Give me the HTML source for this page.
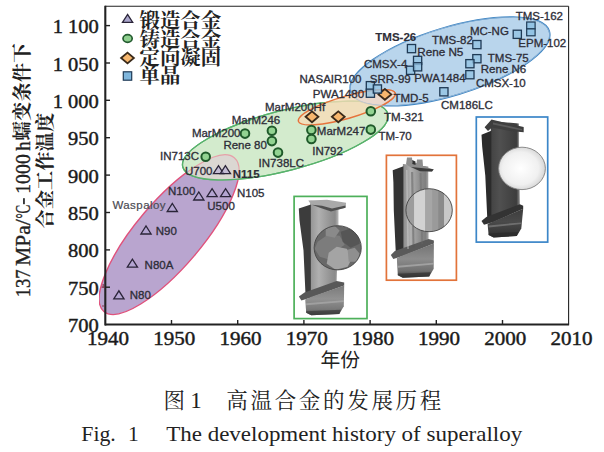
<!DOCTYPE html>
<html><head><meta charset="utf-8"><title>Fig 1</title>
<style>html,body{margin:0;padding:0;background:#fff}body{width:604px;height:452px;overflow:hidden}</style></head>
<body>
<svg width="604" height="452" viewBox="0 0 604 452" style="display:block">
<rect width="604" height="452" fill="#fff"/>
<defs>
<clipPath id="axclip"><rect x="99.0" y="6.2" width="469.6" height="318.3"/></clipPath>
<linearGradient id="gb1" x1="0" x2="1" y1="0" y2="0"><stop offset="0" stop-color="#555"/><stop offset="0.35" stop-color="#9a9a9a"/><stop offset="0.7" stop-color="#6a6a6a"/><stop offset="1" stop-color="#444"/></linearGradient>
<linearGradient id="gb2" x1="0" x2="1" y1="0" y2="0"><stop offset="0" stop-color="#444"/><stop offset="0.4" stop-color="#999"/><stop offset="0.75" stop-color="#777"/><stop offset="1" stop-color="#555"/></linearGradient>
<linearGradient id="gb3" x1="0" x2="1" y1="0" y2="0"><stop offset="0" stop-color="#2a2a2a"/><stop offset="0.4" stop-color="#555"/><stop offset="0.8" stop-color="#3a3a3a"/><stop offset="1" stop-color="#2a2a2a"/></linearGradient>
<radialGradient id="gc3" cx="0.47" cy="0.5" r="0.55"><stop offset="0" stop-color="#ffffff"/><stop offset="0.7" stop-color="#f0f0f0"/><stop offset="0.92" stop-color="#dadada"/><stop offset="1" stop-color="#c0c0c0"/></radialGradient>
</defs>
<g clip-path="url(#axclip)">
<clipPath id="cg"><ellipse cx="0" cy="0" rx="105.9" ry="30.0" transform="translate(285.3 140.5) rotate(-14.5)"/></clipPath>
<clipPath id="cb"><ellipse cx="0" cy="0" rx="103.8" ry="34.0" transform="translate(450.0 61.4) rotate(-16.9)"/></clipPath>
<ellipse cx="0" cy="0" rx="100.8" ry="32.9" transform="translate(169.1 234.6) rotate(-49.7)" fill="#b9a5cf" stroke="#e0527c" stroke-width="1.4" fill-opacity="1.00"/>
<ellipse cx="0" cy="0" rx="105.9" ry="30.0" transform="translate(285.3 140.5) rotate(-14.5)" fill="#d3ebcd" stroke="#58b26c" stroke-width="1.3" fill-opacity="1.00"/>
<g clip-path="url(#cg)">
<ellipse cx="0" cy="0" rx="100.8" ry="32.9" transform="translate(169.1 234.6) rotate(-49.7)" fill="#dbd7d2" stroke="#e6a0a8" stroke-width="1.2" fill-opacity="1.00"/>
</g>
<ellipse cx="0" cy="0" rx="105.9" ry="30.0" transform="translate(285.3 140.5) rotate(-14.5)" fill="none" stroke="#58b26c" stroke-width="1.3" fill-opacity="1.00"/>
<ellipse cx="0" cy="0" rx="103.8" ry="34.0" transform="translate(450.0 61.4) rotate(-16.9)" fill="#b3d1ea" stroke="#3f86c4" stroke-width="1.5" fill-opacity="0.92"/>
<ellipse cx="0" cy="0" rx="50.4" ry="11.1" transform="translate(346.8 107.3) rotate(-16.2)" fill="#f8dcb8" stroke="#e6733c" stroke-width="1.4" fill-opacity="0.80"/>
<g clip-path="url(#cb)">
<ellipse cx="0" cy="0" rx="50.4" ry="11.1" transform="translate(346.8 107.3) rotate(-16.2)" fill="#ead8cf" stroke="#e6733c" stroke-width="1.4" fill-opacity="0.90"/>
<ellipse cx="0" cy="0" rx="103.8" ry="34.0" transform="translate(450.0 61.4) rotate(-16.9)" fill="none" stroke="#9dbbd8" stroke-width="1.2" fill-opacity="1.00"/>
</g>
</g>
<linearGradient id="bg1" x1="0" x2="1" y1="0" y2="0"><stop offset="0" stop-color="#949494"/><stop offset="0.3" stop-color="#b0b0b0"/><stop offset="0.7" stop-color="#949494"/><stop offset="0.88" stop-color="#8a8a8a"/><stop offset="1" stop-color="#bababa"/></linearGradient>
<linearGradient id="rg1" x1="0" x2="0" y1="0" y2="1"><stop offset="0" stop-color="#7a7a7a"/><stop offset="0.45" stop-color="#929292"/><stop offset="0.8" stop-color="#787878"/><stop offset="1" stop-color="#3c3c3c"/></linearGradient>
<g>
<path d="M310.4 200.8 L338.5 203.3 L338.5 225.8 L336.6 283.5 L310.4 293.6 Z" fill="url(#bg1)"/>
<path d="M298.8 208.6 L310.9 204.6 L310.9 294.1 L305.5 294.6 L303.5 250.6 L299.5 220.6 Z" fill="#3c3c3c"/>
<path d="M308.3 200.6 L327.0 199.8 L346.1 202.7 L345.5 207.8 L331.0 211.2 L320.0 207.5 L311.0 204.5 Z" fill="#a9a9a9"/>
<path d="M345.5 205.5 L345.5 207.8 L331.0 211.4 L320.0 207.7 L312.0 204.8 L322.0 205.8 L332.0 208.5 Z" fill="#505050"/>
<path d="M298.9 296.6 L304.5 292.6 L336.6 281.0 L344.2 282.5 L344.2 285.5 L311.2 297.6 L301.4 300.4 Z" fill="#585858"/>
<path d="M305.2 299.6 L312.2 296.6 L344.2 285.5 L343.8 306.3 L339.3 314.0 L311.2 315.3 L306.2 312.8 Z" fill="url(#rg1)"/>
<path d="M306.2 303.3 L343.8 300.3 L343.8 302.0 L306.2 305.3 Z" fill="#b0b0b0" opacity="0.6"/>
<path d="M306.2 311.3 L340.8 309.8 L339.3 314.0 L311.2 315.3 L306.2 312.8 Z" fill="#3c3c3c" opacity="0.7"/>
<clipPath id="cc1"><ellipse cx="337.7" cy="247.8" rx="23.6" ry="22.1"/></clipPath>
<g clip-path="url(#cc1)">
<circle cx="337.7" cy="247.8" r="23.6" fill="#686868"/>
<path d="M317.7 241.8 l10 -7 l12 1 l5 9 l-9 6 l-6 9 l-10 -3 l-5 -8 Z" fill="#7c7c7c"/>
<path d="M328.7 252.8 l8 -6 l10 2 l6 8 l-5 10 l-12 3 l-9 -6 Z" fill="#a4a4a4"/>
<path d="M340.7 231.8 l9 -3 l9 5 l1 10 l-9 4 l-8 -6 Z" fill="#565656"/>
<path d="M325.7 228.8 l8 -4 l6 6 l-5 7 l-9 -2 Z" fill="#8a8a8a"/>
<path d="M347.7 249.8 l7 -2 l5 6 l-3 8 l-8 0 Z" fill="#8f8f8f"/>
</g>
<ellipse cx="337.7" cy="247.8" rx="23.6" ry="22.1" fill="none" stroke="#444" stroke-width="0.9"/>
<rect x="294.1" y="196.4" width="72.9" height="122.2" fill="none" stroke="#4db05a" stroke-width="1.7"/>
</g>
<linearGradient id="bg2" x1="0" x2="1" y1="0" y2="0"><stop offset="0" stop-color="#8a8a8a"/><stop offset="0.3" stop-color="#b0b0b0"/><stop offset="0.7" stop-color="#8a8a8a"/><stop offset="0.88" stop-color="#808080"/><stop offset="1" stop-color="#a8a8a8"/></linearGradient>
<linearGradient id="rg2" x1="0" x2="0" y1="0" y2="1"><stop offset="0" stop-color="#747474"/><stop offset="0.45" stop-color="#8c8c8c"/><stop offset="0.8" stop-color="#707070"/><stop offset="1" stop-color="#333333"/></linearGradient>
<g>
<path d="M402.9 163.9 L428.3 166.4 L428.3 188.9 L428.6 241.6 L402.9 252.1 Z" fill="url(#bg2)"/>
<path d="M392.7 170.2 L403.4 166.2 L403.4 252.6 L395.8 253.1 L393.8 210.6 L393.4 182.2 Z" fill="#333333"/>
<path d="M407.0 157.6 L412.0 157.6 L412.5 163.0 L416.5 163.0 L417.0 159.4 L422.5 159.6 L423.0 166.0 L433.7 169.5 L432.0 171.5 L420.0 171.0 L411.0 167.6 L406.0 164.2 Z" fill="#8e8e8e"/>
<path d="M411.0 167.0 L433.7 169.3 L432.0 171.6 L420.0 171.2 Z" fill="#3c3c3c"/>
<path d="M412.2 160.0 L415.5 161.5 L415.5 165.0 L412.4 164.0 Z" fill="#333"/>
<path d="M390.8 255.1 L394.8 251.1 L428.6 239.1 L433.9 240.6 L433.9 243.6 L402.8 256.1 L393.3 258.9 Z" fill="#5a5a5a"/>
<path d="M396.8 258.1 L403.8 255.1 L433.9 243.6 L433.7 268.8 L429.2 276.5 L402.8 277.8 L397.8 275.3 Z" fill="url(#rg2)"/>
<path d="M397.8 265.8 L433.7 262.8 L433.7 264.5 L397.8 267.8 Z" fill="#b8b8b8" opacity="0.6"/>
<path d="M397.8 273.8 L430.7 272.3 L429.2 276.5 L402.8 277.8 L397.8 275.3 Z" fill="#333333" opacity="0.7"/>
<clipPath id="cc2"><ellipse cx="429.1" cy="210.2" rx="23.2" ry="21.5"/></clipPath>
<path d="M411 172 L413.2 172 L414.5 247 L412.5 247.5 Z" fill="#555" opacity="0.45"/>
<path d="M419.5 173 L421.5 173 L423 244 L421.3 244.5 Z" fill="#666" opacity="0.4"/>
<path d="M406 170 L407.5 170 L408.8 249 L407.3 249 Z" fill="#d0d0d0" opacity="0.5"/>
<g clip-path="url(#cc2)">
<circle cx="429.1" cy="210.2" r="23.2" fill="#bdbdbd"/>
<rect x="405.1" y="187.0" width="9.0" height="46.4" fill="#9c9c9c"/>
<rect x="414.1" y="187.0" width="11.0" height="46.4" fill="#d2d2d2"/>
<rect x="425.1" y="187.0" width="7.0" height="46.4" fill="#a6a6a6"/>
<rect x="432.1" y="187.0" width="6.0" height="46.4" fill="#9a9a9a"/>
<rect x="438.1" y="187.0" width="6.0" height="46.4" fill="#8a8a8a"/>
<rect x="444.1" y="187.0" width="10.0" height="46.4" fill="#c8c8c8"/>
</g>
<ellipse cx="429.1" cy="210.2" rx="23.2" ry="21.5" fill="none" stroke="#444" stroke-width="0.9"/>
<rect x="386.4" y="155.3" width="70.0" height="124.9" fill="none" stroke="#e2733a" stroke-width="1.7"/>
</g>
<linearGradient id="bg3" x1="0" x2="1" y1="0" y2="0"><stop offset="0" stop-color="#434343"/><stop offset="0.3" stop-color="#505050"/><stop offset="0.7" stop-color="#434343"/><stop offset="0.88" stop-color="#3d3d3d"/><stop offset="1" stop-color="#8a8a8a"/></linearGradient>
<linearGradient id="rg3" x1="0" x2="0" y1="0" y2="1"><stop offset="0" stop-color="#3d3d3d"/><stop offset="0.45" stop-color="#4a4a4a"/><stop offset="0.8" stop-color="#3a3a3a"/><stop offset="1" stop-color="#2b2b2b"/></linearGradient>
<g>
<path d="M490.8 121.0 L518.8 123.5 L518.8 146.0 L519.9 206.8 L490.8 218.0 Z" fill="url(#bg3)"/>
<path d="M481.5 134.7 L491.3 130.7 L491.3 218.5 L487.3 219.0 L485.3 175.8 L482.2 146.7 Z" fill="#2b2b2b"/>
<path d="M484.6 127.3 L491.5 119.6 L523.7 127.1 L523.7 132.2 L510.0 131.0 L492.0 127.5 L488.0 131.0 Z" fill="#3e3e3e"/>
<path d="M493.0 122.5 L522.0 129.0 L522.0 130.6 L493.0 124.5 Z" fill="#5a5a5a"/>
<path d="M481.5 221.0 L486.3 217.0 L519.9 204.3 L523.2 205.8 L523.2 208.8 L493.6 222.0 L484.0 224.8 Z" fill="#333333"/>
<path d="M487.6 224.0 L494.6 221.0 L523.2 208.8 L521.3 228.4 L516.8 236.1 L493.6 237.4 L488.6 234.9 Z" fill="url(#rg3)"/>
<path d="M488.6 225.4 L521.3 222.4 L521.3 224.1 L488.6 227.4 Z" fill="#8a8a8a" opacity="0.6"/>
<path d="M488.6 233.4 L518.3 231.9 L516.8 236.1 L493.6 237.4 L488.6 234.9 Z" fill="#2b2b2b" opacity="0.7"/>
<clipPath id="cc3"><ellipse cx="522.0" cy="168.4" rx="23.4" ry="21.2"/></clipPath>
<ellipse cx="522.0" cy="168.4" rx="23.4" ry="21.2" fill="url(#gc3)"/>
<ellipse cx="522.0" cy="168.4" rx="23.4" ry="21.2" fill="none" stroke="#808080" stroke-width="0.9"/>
<rect x="476.3" y="117.0" width="71.4" height="125.1" fill="none" stroke="#3b86c8" stroke-width="1.7"/>
</g>
<g stroke="#222" fill="none">
<line x1="105.3" y1="5.7" x2="105.3" y2="325.5" stroke-width="2.1"/>
<line x1="105.0" y1="324.5" x2="569.1" y2="324.5" stroke-width="2.0"/>
<line x1="105.0" y1="6.2" x2="568.6" y2="6.2" stroke-width="1.1"/>
<line x1="568.6" y1="6.2" x2="568.6" y2="324.5" stroke-width="1.1"/>
<line x1="105.0" y1="287.2" x2="110.0" y2="287.2" stroke-width="1.4"/>
<line x1="105.0" y1="249.9" x2="110.0" y2="249.9" stroke-width="1.4"/>
<line x1="105.0" y1="212.5" x2="110.0" y2="212.5" stroke-width="1.4"/>
<line x1="105.0" y1="175.1" x2="110.0" y2="175.1" stroke-width="1.4"/>
<line x1="105.0" y1="137.7" x2="110.0" y2="137.7" stroke-width="1.4"/>
<line x1="105.0" y1="100.3" x2="110.0" y2="100.3" stroke-width="1.4"/>
<line x1="105.0" y1="63.0" x2="110.0" y2="63.0" stroke-width="1.4"/>
<line x1="105.0" y1="25.6" x2="110.0" y2="25.6" stroke-width="1.4"/>
<line x1="171.5" y1="324.5" x2="171.5" y2="320.0" stroke-width="1.4"/>
<line x1="237.7" y1="324.5" x2="237.7" y2="320.0" stroke-width="1.4"/>
<line x1="303.9" y1="324.5" x2="303.9" y2="320.0" stroke-width="1.4"/>
<line x1="370.1" y1="324.5" x2="370.1" y2="320.0" stroke-width="1.4"/>
<line x1="436.3" y1="324.5" x2="436.3" y2="320.0" stroke-width="1.4"/>
<line x1="502.5" y1="324.5" x2="502.5" y2="320.0" stroke-width="1.4"/>
</g>
<path d="M101.6 287.2 H104.5 M102 306 H104.5 M103.2 284 V288" stroke="#7a2438" stroke-width="1.2" fill="none" opacity="0.8"/>
<text x="98.8" y="332.2" text-anchor="end" style="font-family:'Liberation Serif',serif;font-size:18px;fill:#1a1a1a;stroke:#1a1a1a;stroke-width:0.4px" transform="translate(98.8 0) scale(1.14 1) translate(-98.8 0)">700</text>
<text x="98.8" y="294.8" text-anchor="end" style="font-family:'Liberation Serif',serif;font-size:18px;fill:#1a1a1a;stroke:#1a1a1a;stroke-width:0.4px" transform="translate(98.8 0) scale(1.14 1) translate(-98.8 0)">750</text>
<text x="98.8" y="257.5" text-anchor="end" style="font-family:'Liberation Serif',serif;font-size:18px;fill:#1a1a1a;stroke:#1a1a1a;stroke-width:0.4px" transform="translate(98.8 0) scale(1.14 1) translate(-98.8 0)">800</text>
<text x="98.8" y="220.1" text-anchor="end" style="font-family:'Liberation Serif',serif;font-size:18px;fill:#1a1a1a;stroke:#1a1a1a;stroke-width:0.4px" transform="translate(98.8 0) scale(1.14 1) translate(-98.8 0)">850</text>
<text x="98.8" y="182.7" text-anchor="end" style="font-family:'Liberation Serif',serif;font-size:18px;fill:#1a1a1a;stroke:#1a1a1a;stroke-width:0.4px" transform="translate(98.8 0) scale(1.14 1) translate(-98.8 0)">900</text>
<text x="98.8" y="145.3" text-anchor="end" style="font-family:'Liberation Serif',serif;font-size:18px;fill:#1a1a1a;stroke:#1a1a1a;stroke-width:0.4px" transform="translate(98.8 0) scale(1.14 1) translate(-98.8 0)">950</text>
<text x="98.8" y="107.9" text-anchor="end" style="font-family:'Liberation Serif',serif;font-size:18px;fill:#1a1a1a;stroke:#1a1a1a;stroke-width:0.4px" transform="translate(98.8 0) scale(1.14 1) translate(-98.8 0)">1 000</text>
<text x="98.8" y="70.6" text-anchor="end" style="font-family:'Liberation Serif',serif;font-size:18px;fill:#1a1a1a;stroke:#1a1a1a;stroke-width:0.4px" transform="translate(98.8 0) scale(1.14 1) translate(-98.8 0)">1 050</text>
<text x="98.8" y="33.2" text-anchor="end" style="font-family:'Liberation Serif',serif;font-size:18px;fill:#1a1a1a;stroke:#1a1a1a;stroke-width:0.4px" transform="translate(98.8 0) scale(1.14 1) translate(-98.8 0)">1 100</text>
<text x="108.1" y="344.6" text-anchor="middle" style="font-family:'Liberation Serif',serif;font-size:18px;fill:#1a1a1a;stroke:#1a1a1a;stroke-width:0.4px" transform="translate(108.1 0) scale(1.17 1) translate(-108.1 0)">1940</text>
<text x="174.3" y="344.6" text-anchor="middle" style="font-family:'Liberation Serif',serif;font-size:18px;fill:#1a1a1a;stroke:#1a1a1a;stroke-width:0.4px" transform="translate(174.3 0) scale(1.17 1) translate(-174.3 0)">1950</text>
<text x="240.5" y="344.6" text-anchor="middle" style="font-family:'Liberation Serif',serif;font-size:18px;fill:#1a1a1a;stroke:#1a1a1a;stroke-width:0.4px" transform="translate(240.5 0) scale(1.17 1) translate(-240.5 0)">1960</text>
<text x="306.7" y="344.6" text-anchor="middle" style="font-family:'Liberation Serif',serif;font-size:18px;fill:#1a1a1a;stroke:#1a1a1a;stroke-width:0.4px" transform="translate(306.7 0) scale(1.17 1) translate(-306.7 0)">1970</text>
<text x="372.9" y="344.6" text-anchor="middle" style="font-family:'Liberation Serif',serif;font-size:18px;fill:#1a1a1a;stroke:#1a1a1a;stroke-width:0.4px" transform="translate(372.9 0) scale(1.17 1) translate(-372.9 0)">1980</text>
<text x="439.1" y="344.6" text-anchor="middle" style="font-family:'Liberation Serif',serif;font-size:18px;fill:#1a1a1a;stroke:#1a1a1a;stroke-width:0.4px" transform="translate(439.1 0) scale(1.17 1) translate(-439.1 0)">1990</text>
<text x="505.3" y="344.6" text-anchor="middle" style="font-family:'Liberation Serif',serif;font-size:18px;fill:#1a1a1a;stroke:#1a1a1a;stroke-width:0.4px" transform="translate(505.3 0) scale(1.17 1) translate(-505.3 0)">2000</text>
<text x="571.5" y="344.6" text-anchor="middle" style="font-family:'Liberation Serif',serif;font-size:18px;fill:#1a1a1a;stroke:#1a1a1a;stroke-width:0.4px" transform="translate(571.5 0) scale(1.17 1) translate(-571.5 0)">2010</text>
<path d="M113.8 298.8 L118.9 290.8 L124.0 298.8 Z" fill="rgba(176,166,214,0.55)" stroke="#2a2438" stroke-width="1.3" stroke-linejoin="miter"/>
<path d="M127.3 267.2 L132.4 259.2 L137.5 267.2 Z" fill="rgba(176,166,214,0.55)" stroke="#2a2438" stroke-width="1.3" stroke-linejoin="miter"/>
<path d="M140.9 234.0 L146.0 226.0 L151.1 234.0 Z" fill="rgba(176,166,214,0.55)" stroke="#2a2438" stroke-width="1.3" stroke-linejoin="miter"/>
<path d="M167.2 211.5 L172.3 203.5 L177.4 211.5 Z" fill="rgba(176,166,214,0.55)" stroke="#2a2438" stroke-width="1.3" stroke-linejoin="miter"/>
<path d="M193.7 200.0 L198.8 192.0 L203.9 200.0 Z" fill="rgba(176,166,214,0.55)" stroke="#2a2438" stroke-width="1.3" stroke-linejoin="miter"/>
<path d="M207.0 196.6 L212.1 188.6 L217.2 196.6 Z" fill="rgba(176,166,214,0.55)" stroke="#2a2438" stroke-width="1.3" stroke-linejoin="miter"/>
<path d="M220.5 196.6 L225.6 188.6 L230.7 196.6 Z" fill="rgba(176,166,214,0.55)" stroke="#2a2438" stroke-width="1.3" stroke-linejoin="miter"/>
<path d="M213.4 173.7 L218.5 165.7 L223.6 173.7 Z" fill="rgba(176,166,214,0.55)" stroke="#2a2438" stroke-width="1.3" stroke-linejoin="miter"/>
<path d="M220.3 173.7 L225.4 165.7 L230.5 173.7 Z" fill="rgba(176,166,214,0.55)" stroke="#2a2438" stroke-width="1.3" stroke-linejoin="miter"/>
<circle cx="245.0" cy="133.6" r="4.3" fill="#92d391" stroke="#1f5a2a" stroke-width="2.0"/>
<circle cx="205.7" cy="156.8" r="4.3" fill="#92d391" stroke="#1f5a2a" stroke-width="2.0"/>
<circle cx="271.9" cy="130.8" r="4.3" fill="#92d391" stroke="#1f5a2a" stroke-width="2.0"/>
<circle cx="271.9" cy="141.1" r="4.3" fill="#92d391" stroke="#1f5a2a" stroke-width="2.0"/>
<circle cx="278.0" cy="152.6" r="4.3" fill="#92d391" stroke="#1f5a2a" stroke-width="2.0"/>
<circle cx="311.4" cy="130.0" r="4.3" fill="#92d391" stroke="#1f5a2a" stroke-width="2.0"/>
<circle cx="311.4" cy="139.0" r="4.3" fill="#92d391" stroke="#1f5a2a" stroke-width="2.0"/>
<circle cx="370.8" cy="111.3" r="4.3" fill="#92d391" stroke="#1f5a2a" stroke-width="2.0"/>
<circle cx="370.8" cy="129.6" r="4.3" fill="#92d391" stroke="#1f5a2a" stroke-width="2.0"/>
<path d="M305.6 116.8 L312.0 111.4 L318.4 116.8 L312.0 122.2 Z" fill="#f7b76e" stroke="#3a2a1a" stroke-width="1.8"/>
<path d="M331.9 116.8 L338.3 111.4 L344.7 116.8 L338.3 122.2 Z" fill="#f7b76e" stroke="#3a2a1a" stroke-width="1.8"/>
<path d="M378.5 94.4 L384.9 89.0 L391.3 94.4 L384.9 99.8 Z" fill="#f7b76e" stroke="#3a2a1a" stroke-width="1.8"/>
<rect x="513.2" y="30.2" width="8.2" height="8.2" fill="#93c3e4" fill-opacity="0.8" stroke="#1f3a55" stroke-width="1.3"/>
<rect x="407.4" y="44.5" width="8.2" height="8.2" fill="#93c3e4" fill-opacity="0.8" stroke="#1f3a55" stroke-width="1.3"/>
<rect x="472.8" y="40.5" width="8.2" height="8.2" fill="#93c3e4" fill-opacity="0.8" stroke="#1f3a55" stroke-width="1.3"/>
<rect x="406.5" y="66.2" width="8.2" height="8.2" fill="#93c3e4" fill-opacity="0.8" stroke="#1f3a55" stroke-width="1.3"/>
<rect x="413.5" y="56.3" width="8.2" height="8.2" fill="#93c3e4" fill-opacity="0.8" stroke="#1f3a55" stroke-width="1.3"/>
<rect x="413.5" y="62.7" width="8.2" height="8.2" fill="#93c3e4" fill-opacity="0.8" stroke="#1f3a55" stroke-width="1.3"/>
<rect x="472.8" y="54.6" width="8.2" height="8.2" fill="#93c3e4" fill-opacity="0.8" stroke="#1f3a55" stroke-width="1.3"/>
<rect x="465.8" y="59.6" width="8.2" height="8.2" fill="#93c3e4" fill-opacity="0.8" stroke="#1f3a55" stroke-width="1.3"/>
<rect x="465.8" y="70.6" width="8.2" height="8.2" fill="#93c3e4" fill-opacity="0.8" stroke="#1f3a55" stroke-width="1.3"/>
<rect x="366.3" y="81.6" width="8.2" height="8.2" fill="#93c3e4" fill-opacity="0.8" stroke="#1f3a55" stroke-width="1.3"/>
<rect x="366.3" y="89.1" width="8.2" height="8.2" fill="#93c3e4" fill-opacity="0.8" stroke="#1f3a55" stroke-width="1.3"/>
<rect x="373.3" y="84.9" width="8.2" height="8.2" fill="#93c3e4" fill-opacity="0.8" stroke="#1f3a55" stroke-width="1.3"/>
<rect x="439.8" y="87.7" width="8.2" height="8.2" fill="#93c3e4" fill-opacity="0.8" stroke="#1f3a55" stroke-width="1.3"/>
<rect x="526.7" y="22" width="8.4" height="6.9" fill="#93c3e4" stroke="#1f3a55" stroke-width="1.2"/>
<rect x="526.7" y="28.9" width="8.4" height="6.9" fill="#93c3e4" stroke="#1f3a55" stroke-width="1.2"/>
<text x="129.8" y="299.4" style="font-family:'Liberation Sans',sans-serif;font-size:11.5px;fill:#2e2e38;stroke:#2e2e38;stroke-width:0.32px">N80</text>
<text x="144.6" y="268.7" style="font-family:'Liberation Sans',sans-serif;font-size:11.5px;fill:#2e2e38;stroke:#2e2e38;stroke-width:0.32px">N80A</text>
<text x="155.7" y="234.9" style="font-family:'Liberation Sans',sans-serif;font-size:11.5px;fill:#2e2e38;stroke:#2e2e38;stroke-width:0.32px">N90</text>
<text x="167.9" y="194.7" style="font-family:'Liberation Sans',sans-serif;font-size:11.5px;fill:#2e2e38;stroke:#2e2e38;stroke-width:0.32px">N100</text>
<text x="207.3" y="210.0" style="font-family:'Liberation Sans',sans-serif;font-size:11.5px;fill:#2e2e38;stroke:#2e2e38;stroke-width:0.32px">U500</text>
<text x="237.0" y="196.8" style="font-family:'Liberation Sans',sans-serif;font-size:11.5px;fill:#2e2e38;stroke:#2e2e38;stroke-width:0.32px">N105</text>
<text x="185.0" y="175.2" style="font-family:'Liberation Sans',sans-serif;font-size:11.5px;fill:#2e2e38;stroke:#2e2e38;stroke-width:0.32px">U700</text>
<text x="232.8" y="178.3" style="font-family:'Liberation Sans',sans-serif;font-size:11.5px;fill:#2e2e38;stroke:#2e2e38;stroke-width:0.32px;font-weight:bold;stroke-width:0.15px">N115</text>
<text x="160.0" y="160.0" style="font-family:'Liberation Sans',sans-serif;font-size:11.5px;fill:#2e2e38;stroke:#2e2e38;stroke-width:0.32px">IN713C</text>
<text x="191.9" y="136.8" style="font-family:'Liberation Sans',sans-serif;font-size:11.5px;fill:#2e2e38;stroke:#2e2e38;stroke-width:0.32px">MarM200</text>
<text x="231.7" y="123.8" style="font-family:'Liberation Sans',sans-serif;font-size:11.5px;fill:#2e2e38;stroke:#2e2e38;stroke-width:0.32px">MarM246</text>
<text x="223.4" y="149.3" style="font-family:'Liberation Sans',sans-serif;font-size:11.5px;fill:#2e2e38;stroke:#2e2e38;stroke-width:0.32px">Rene 80</text>
<text x="258.6" y="166.6" style="font-family:'Liberation Sans',sans-serif;font-size:11.5px;fill:#2e2e38;stroke:#2e2e38;stroke-width:0.32px">IN738LC</text>
<text x="265.0" y="110.8" style="font-family:'Liberation Sans',sans-serif;font-size:11.5px;fill:#2e2e38;stroke:#2e2e38;stroke-width:0.32px">MarM200Hf</text>
<text x="316.8" y="134.7" style="font-family:'Liberation Sans',sans-serif;font-size:11.5px;fill:#2e2e38;stroke:#2e2e38;stroke-width:0.32px">MarM247</text>
<text x="312.2" y="154.5" style="font-family:'Liberation Sans',sans-serif;font-size:11.5px;fill:#2e2e38;stroke:#2e2e38;stroke-width:0.32px">IN792</text>
<text x="384.1" y="121.4" style="font-family:'Liberation Sans',sans-serif;font-size:11.5px;fill:#2e2e38;stroke:#2e2e38;stroke-width:0.32px">TM-321</text>
<text x="378.5" y="140.4" style="font-family:'Liberation Sans',sans-serif;font-size:11.5px;fill:#2e2e38;stroke:#2e2e38;stroke-width:0.32px">TM-70</text>
<text x="393.5" y="102.0" style="font-family:'Liberation Sans',sans-serif;font-size:11.5px;fill:#2e2e38;stroke:#2e2e38;stroke-width:0.32px">TMD-5</text>
<text x="312.8" y="98.0" style="font-family:'Liberation Sans',sans-serif;font-size:11.5px;fill:#2e2e38;stroke:#2e2e38;stroke-width:0.32px">PWA1480</text>
<text x="299.5" y="82.5" style="font-family:'Liberation Sans',sans-serif;font-size:11.5px;fill:#2e2e38;stroke:#2e2e38;stroke-width:0.32px">NASAIR100</text>
<text x="369.8" y="82.7" style="font-family:'Liberation Sans',sans-serif;font-size:11.5px;fill:#2e2e38;stroke:#2e2e38;stroke-width:0.32px">SRR-99</text>
<text x="363.9" y="68.4" style="font-family:'Liberation Sans',sans-serif;font-size:11.5px;fill:#2e2e38;stroke:#2e2e38;stroke-width:0.32px">CMSX-4</text>
<text x="375.3" y="41.4" style="font-family:'Liberation Sans',sans-serif;font-size:11.5px;fill:#2e2e38;stroke:#2e2e38;stroke-width:0.32px;font-weight:bold;stroke-width:0.15px">TMS-26</text>
<text x="417.2" y="56.3" style="font-family:'Liberation Sans',sans-serif;font-size:11.5px;fill:#2e2e38;stroke:#2e2e38;stroke-width:0.32px" textLength="46.2" lengthAdjust="spacingAndGlyphs">Rene N5</text>
<text x="431.9" y="43.5" style="font-family:'Liberation Sans',sans-serif;font-size:11.5px;fill:#2e2e38;stroke:#2e2e38;stroke-width:0.32px">TMS-82</text>
<text x="414.2" y="81.5" style="font-family:'Liberation Sans',sans-serif;font-size:11.5px;fill:#2e2e38;stroke:#2e2e38;stroke-width:0.32px">PWA1484</text>
<text x="441.0" y="108.5" style="font-family:'Liberation Sans',sans-serif;font-size:11.5px;fill:#2e2e38;stroke:#2e2e38;stroke-width:0.32px">CM186LC</text>
<text x="475.9" y="87.1" style="font-family:'Liberation Sans',sans-serif;font-size:11.5px;fill:#2e2e38;stroke:#2e2e38;stroke-width:0.32px">CMSX-10</text>
<text x="480.8" y="72.5" style="font-family:'Liberation Sans',sans-serif;font-size:11.5px;fill:#2e2e38;stroke:#2e2e38;stroke-width:0.32px">Rene N6</text>
<text x="487.8" y="61.7" style="font-family:'Liberation Sans',sans-serif;font-size:11.5px;fill:#2e2e38;stroke:#2e2e38;stroke-width:0.32px">TMS-75</text>
<text x="469.9" y="34.9" style="font-family:'Liberation Sans',sans-serif;font-size:11.5px;fill:#2e2e38;stroke:#2e2e38;stroke-width:0.32px">MC-NG</text>
<text x="515.7" y="19.9" style="font-family:'Liberation Sans',sans-serif;font-size:11.5px;fill:#2e2e38;stroke:#2e2e38;stroke-width:0.32px">TMS-162</text>
<text x="518.3" y="46.8" style="font-family:'Liberation Sans',sans-serif;font-size:11.5px;fill:#2e2e38;stroke:#2e2e38;stroke-width:0.32px">EPM-102</text>
<text x="112.4" y="208.7" style="font-family:'Liberation Sans',sans-serif;font-size:11.5px;fill:#4a4a52;letter-spacing:0.45px;stroke:#4a4a52;stroke-width:0.2px">Waspaloy</text>
<path d="M122.5 22.4 L127.6 14.4 L132.7 22.4 Z" fill="#aaa6cc" stroke="#2a2438" stroke-width="1.3" stroke-linejoin="miter"/>
<ellipse cx="127.6" cy="38.5" rx="4.6" ry="3.8" fill="#8fcf8f" stroke="#245c30" stroke-width="1.7"/>
<path d="M121.1 58.0 L127.5 52.6 L133.9 58.0 L127.5 63.4 Z" fill="#f7b76e" stroke="#3a2a1a" stroke-width="1.8"/>
<rect x="123.3" y="71.8" width="8.4" height="8.4" fill="#7fb6dc" stroke="#1f3a55" stroke-width="1.2"/>
<text x="139.5" y="28.2" textLength="81.6" lengthAdjust="spacingAndGlyphs" style="font-family:'Liberation Serif','Noto Serif CJK SC',serif;font-size:20.4px;font-weight:bold;fill:#222">锻造合金</text>
<text x="139.5" y="46.6" textLength="81.6" lengthAdjust="spacingAndGlyphs" style="font-family:'Liberation Serif','Noto Serif CJK SC',serif;font-size:20.4px;font-weight:bold;fill:#222">铸造合金</text>
<text x="139.5" y="65.0" textLength="81.6" lengthAdjust="spacingAndGlyphs" style="font-family:'Liberation Serif','Noto Serif CJK SC',serif;font-size:20.4px;font-weight:bold;fill:#222">定向凝固</text>
<text x="139.5" y="83.0" textLength="40.8" lengthAdjust="spacingAndGlyphs" style="font-family:'Liberation Serif','Noto Serif CJK SC',serif;font-size:20.4px;font-weight:bold;fill:#222">单晶</text>
<text x="320.4" y="367.0" textLength="39.6" lengthAdjust="spacingAndGlyphs" style="font-family:'Liberation Sans','Noto Sans CJK SC',sans-serif;font-size:19.8px;fill:#222">年份</text>
<g transform="translate(29.5 294.8) rotate(-90)">
<text x="-2.5" y="0" style="font-family:'Liberation Serif',serif;font-size:21px;fill:#222;stroke:#222;stroke-width:0.35px" textLength="28.0" lengthAdjust="spacingAndGlyphs">137</text>
<text x="28.9" y="0" style="font-family:'Liberation Serif',serif;font-size:21px;fill:#222;stroke:#222;stroke-width:0.35px" textLength="46.6" lengthAdjust="spacingAndGlyphs">MPa/</text>
<text x="76.2" y="0" style="font-family:'Liberation Serif',serif;font-size:21px;fill:#222;stroke:#222;stroke-width:0.3px" textLength="13.8" lengthAdjust="spacingAndGlyphs">°C</text>
<rect x="90.6" y="-6.4" width="6.0" height="1.7" fill="#222"/>
<text x="101.0" y="0" style="font-family:'Liberation Serif',serif;font-size:21px;fill:#222;stroke:#222;stroke-width:0.35px" textLength="39.6" lengthAdjust="spacingAndGlyphs">1000</text>
<text x="144.0" y="0" style="font-family:'Liberation Serif',serif;font-size:21px;fill:#222;stroke:#222;stroke-width:0.35px" textLength="9.4" lengthAdjust="spacingAndGlyphs">h</text>
<text x="154.4" y="-0.5" textLength="97" lengthAdjust="spacingAndGlyphs" style="font-family:'Liberation Serif','Noto Serif CJK SC',serif;font-size:19.4px;font-weight:bold;fill:#222">蠕变条件下</text>
</g>
<g transform="translate(52.0 228.8) rotate(-90)">
<text x="0.2" y="0.2" textLength="115.8" lengthAdjust="spacingAndGlyphs" style="font-family:'Liberation Serif','Noto Serif CJK SC',serif;font-size:19.3px;font-weight:bold;fill:#222">合金工作温度</text>
</g>
<text x="163.6" y="408.3" style="font-family:'Liberation Serif','Noto Serif CJK SC',serif;font-size:21.5px;fill:#222">图</text>
<text x="190.3" y="408.4" style="font-family:'Liberation Serif',serif;font-size:21.5px;fill:#222;font-size:23px">1</text>
<text x="226.3" y="408.3" textLength="215" style="font-family:'Liberation Serif','Noto Serif CJK SC',serif;font-size:21.5px;fill:#222">高温合金的发展历程</text>
<text x="81.3" y="440.7" style="font-family:'Liberation Serif',serif;font-size:21.5px;fill:#222" textLength="34.5" lengthAdjust="spacingAndGlyphs">Fig.</text>
<text x="128.0" y="440.7" style="font-family:'Liberation Serif',serif;font-size:21.5px;fill:#222">1</text>
<text x="166.2" y="440.7" style="font-family:'Liberation Serif',serif;font-size:21.5px;fill:#222" textLength="356" lengthAdjust="spacingAndGlyphs">The development history of superalloy</text>
</svg>
</body></html>
